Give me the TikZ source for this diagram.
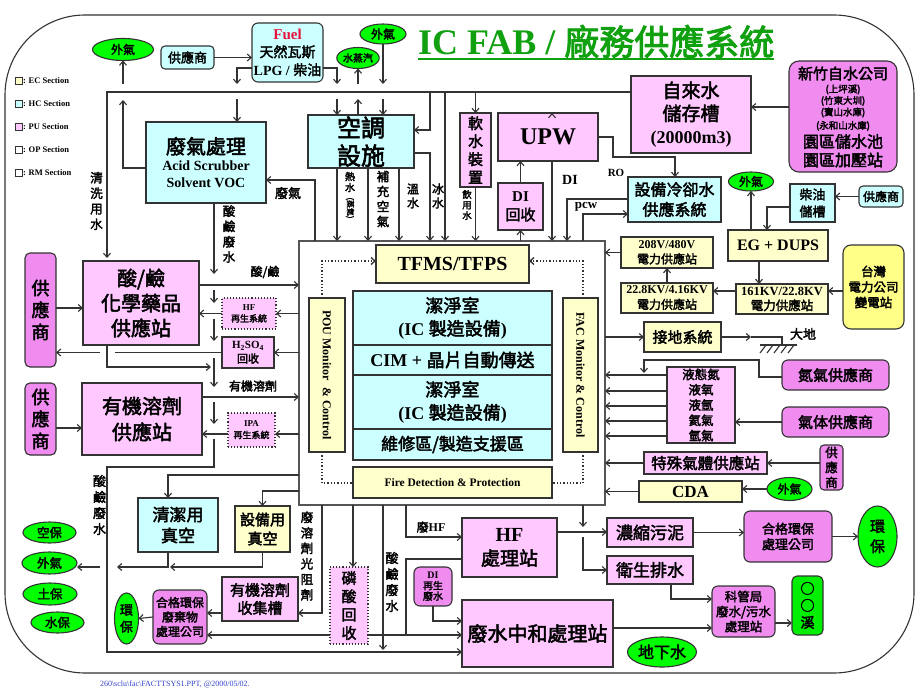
\documentclass[tikz,border=0pt]{standalone}
\usepackage{fontspec}
\setmainfont{Liberation Serif}
\newfontfamily\cjk[AutoFakeBold=2.5]{Noto Sans CJK TC}
\usetikzlibrary{arrows.meta,shapes.geometric}
\definecolor{pu}{HTML}{FFC8FF}
\definecolor{hc}{HTML}{CCFFFF}
\definecolor{ec}{HTML}{FFFFCC}
\definecolor{vi}{HTML}{F08CF0}
\definecolor{gr}{HTML}{00FF00}
\definecolor{gb}{HTML}{00EE00}
\definecolor{ty}{HTML}{FFFF88}
\definecolor{bd}{HTML}{333333}
\definecolor{frc}{HTML}{555555}
\definecolor{tg}{HTML}{10A010}
\definecolor{fuelred}{HTML}{E8103C}
\definecolor{fb}{HTML}{3344CC}
\newcommand\zhf{\cjk\bfseries}
\newcommand\lat{\rmfamily\bfseries}
\newcommand\fsz[2]{\fontsize{#1}{#2}\selectfont}
\newcommand\bxx[7]{\node[#2,minimum width={(#5-#3)*1pt},minimum height={(#6-#4)*1pt}] (#1) at ({(#3+#5)/2},{(#4+#6)/2}) {#7};}
\newcommand\elp[7]{\node[ell,#2,minimum width=#5pt,minimum height=#6pt] (#1) at (#3,#4) {#7};}
\begin{document}
\begin{tikzpicture}[x=1pt,y=-1pt,
 every node/.style={inner sep=0pt,outer sep=0pt,align=center,font=\lat},
 box/.style={draw=bd,line width=1.1pt},
 pu/.style={box,fill=pu}, hc/.style={box,fill=hc}, ec/.style={box,fill=ec},
 vi/.style={box,fill=vi,rounded corners=6pt},
 ell/.style={ellipse,draw=bd,line width=1.1pt,fill=gr},
 ln/.style={draw=bd,line width=1.1pt},
 ar/.style={ln,-{Straight Barb[length=4pt,width=7pt]}},
 dt/.style={draw=bd,line width=1.3pt,dotted},
 dar/.style={dt,-{Straight Barb[length=4pt,width=7pt]}},
]
\fill[white] (0,0) rectangle (920,690);
\useasboundingbox (0,0) rectangle (920,690);
\draw[ln,rounded corners=80pt] (5,15) rectangle (914,673);

% legend
\foreach \yy/\cc/\lb in {80.5/ec/EC,103.5/hc/HC,126.5/pu/PU,149.5/white/OP,172.5/white/RM}{
  \node[draw=bd,line width=0.8pt,fill=\cc,minimum size=7pt] (lg\lb) at (18.5,\yy) {};
  \node[anchor=west,font=\lat\fsz{8.5}{10}] (lt\lb) at (23,\yy) {: \lb\ Section};
}

% title
\node[anchor=base west,text=tg,font=\lat\fsz{36}{40}] (title) at (418,55) {IC FAB / {\zhf\fsz{35}{40}廠務供應系統}};
\draw[draw=tg,line width=2.2pt] ([yshift=-4pt]title.base west) -- ([yshift=-4pt]title.base east);

% main frame
\bxx{fr}{draw=frc,line width=1.3pt,fill=white}{299}{241}{605}{505}{}

% ---------- top row ----------
\elp{wq1}{font=\zhf\fsz{12}{14}}{123}{49.5}{61}{22}{外氣}
\bxx{gys1}{hc,rounded corners=4pt,font=\zhf\fsz{13}{15}}{161}{46}{214}{69}{供應商}
\bxx{fuel}{hc,rounded corners=6pt,font=\zhf\fsz{14}{18}}{252}{23}{323}{82}{{\lat\color{fuelred}\fsz{15}{18}Fuel}\\天然瓦斯\\{\lat LPG / }柴油}
\elp{stm}{font=\zhf\fsz{10}{12}}{358}{58}{40}{21}{水蒸汽}
\elp{wq2}{font=\zhf\fsz{12}{14}}{383}{34}{46}{20}{外氣}
\bxx{wg}{hc,font=\lat\fsz{14}{17}}{146}{122}{266}{203}{{\zhf\fsz{20}{25}廢氣處理}\\Acid Scrubber\\Solvent VOC}
\bxx{kt}{hc,font=\zhf\fsz{24}{28}}{308}{115}{414}{168}{空調\\設施}
\bxx{rs}{pu,font=\zhf\fsz{15}{18}}{460}{113}{491}{187}{軟\\水\\裝\\置}
\bxx{upw}{pu,font=\lat\fsz{24}{28}}{498}{113}{598}{161}{UPW}
\bxx{dih}{pu,font=\zhf\fsz{15}{19}}{498}{183}{543}{230}{{\lat DI}\\回收}
\bxx{tap}{pu,font=\zhf\fsz{19}{23}}{631}{76}{751}{153}{自來水\\儲存槽\\{\lat\fsz{18}{23}(20000m3)}}
\bxx{hsc}{vi,rounded corners=10pt}{789}{61}{897}{172}{}
\node[font=\zhf\fsz{15}{17}] (hs1) at (843,73.5) {新竹自水公司};
\node[font=\zhf\fsz{9.5}{11}] (hs2) at (843,89.5) {(上坪溪)};
\node[font=\zhf\fsz{9.5}{11}] (hs3) at (843,101) {(竹東大圳)};
\node[font=\zhf\fsz{9.5}{11}] (hs4) at (843,112.5) {(寶山水庫)};
\node[font=\zhf\fsz{9.5}{11}] (hs5) at (843,126) {(永和山水庫)};
\node[font=\zhf\fsz{16}{18}] (hs6) at (843,141.5) {園區儲水池};
\node[font=\zhf\fsz{16}{18}] (hs7) at (843,160) {園區加壓站};
\bxx{cw}{hc,font=\zhf\fsz{16}{20}}{628}{177}{721}{222}{設備冷卻水\\供應系統}
\elp{wq3}{font=\zhf\fsz{12}{14}}{751}{181.5}{45}{19}{外氣}
\bxx{cy}{hc,font=\zhf\fsz{13}{17}}{790}{184}{835}{222}{柴油\\儲槽}
\bxx{gys3}{hc,rounded corners=4pt,font=\zhf\fsz{12}{14}}{859}{186}{903}{207}{供應商}

% bus
\draw[ar] (tap.west |- 0,92) -- (107,92) -- (107,258);
\draw[ar] (wg.west |- 0,168) -- (123,168) -- (123,100);
\draw[ar] (123,84) -- (wq1.south);
\draw[ar] (gys1.east) -- (fuel.west |- gys1.east);
\draw[ar] (fuel.west |- 0,68) -| (237,84);
\draw[ar] (237,99) -- (wg.north -| 237,0);
\draw[ar] (fuel.east |- 0,68) -| (337,84);
\draw[ar] (337,99) -- (kt.north -| 337,0);
\draw[ar] (kt.north -| 358,0) -- (358,99);
\draw[ar] (358,84) -- (stm.south);
\draw[ar] (wq2.south) -- (383,84);
\draw[ar] (383,99) -- (kt.north -| 383,0);
\draw[ar] (430,92) |- (kt.east |- 0,130);
\draw[ar] (445,92) -- (fr.north -| 445,0);
\draw[ar] (rs.north |- 0,92) -- (rs.north);
\draw[ar] (upw.north -| 552,0 |- 0,92) -- (upw.north -| 552,0);
\draw[ar] (hsc.west |- 0,107) -- (tap.east |- 0,107);

% air-con outputs
\draw[ar] (kt.south -| 337,0) -- (fr.north -| 337,0);
\draw[ar] (kt.south -| 368,0) -- (fr.north -| 368,0);
\draw[ar] (kt.south -| 399,0) -- (fr.north -| 399,0);
\draw[ar] (kt.east |- 0,153) -| (fr.north -| 430,0);
\node[font=\zhf\fsz{10}{11}] (lrs) at (350,182) {熱\\水};
\node[rotate=-90,font=\zhf\fsz{8}{9}] (lrs2) at (350,208) {(蒸氣)};
\node[font=\zhf\fsz{12.5}{15}] (lbc) at (383,199) {補\\充\\空\\氣};
\node[font=\zhf\fsz{12}{14}] (lws) at (413,196) {溫\\水};
\node[font=\zhf\fsz{12}{14}] (lbs) at (438,196) {冰\\水};
\node[font=\zhf\fsz{9.5}{10.5}] (lys) at (467,205) {飲\\用\\水};
\draw[ar] (rs.south) -- (fr.north -| rs.south);

% UPW
\draw[ar] (upw.south -| 552,0) -- (fr.north -| 552,0);
\draw[ar] (fr.north -| dih.south) -- (dih.south);
\draw[ar] (dih.north) -- (upw.south -| dih.north);
\draw[ar] (upw.east |- 0,137) -- (613,137) -- (613,157) -- (675,157) -- (cw.north -| 675,0);
\node[font=\lat\fsz{11}{13}] (lro) at (616,173) {RO};
\node[font=\lat\fsz{14}{16}] (ldi) at (570,180) {DI};
\node[font=\lat\fsz{13}{15}] (lpcw) at (586,207) {pcw};
\draw[ar] (cw.west |- 0,199) -| (fr.north -| 567,0);
\draw[ar] (fr.north -| 583,0) |- (cw.west |- 0,214);

% power & right column
\bxx{eg}{ec,font=\lat\fsz{16}{18}}{728}{230}{828}{261}{EG + DUPS}
\bxx{kv161}{ec,font=\lat\fsz{12.5}{15}}{736}{284}{828}{314}{161KV/22.8KV\\{\zhf 電力供應站}}
\bxx{tw}{box,fill=ty,rounded corners=8pt,font=\zhf\fsz{12.5}{15.5}}{843}{245}{904}{329}{台灣\\電力公司\\變電站}
\bxx{kv22}{ec,font=\lat\fsz{12}{15}}{621}{283}{713}{313}{22.8KV/4.16KV\\{\zhf 電力供應站}}
\bxx{v208}{ec,font=\lat\fsz{12}{15}}{621}{237}{713}{268}{208V/480V\\{\zhf 電力供應站}}
\bxx{gd}{ec,font=\zhf\fsz{15}{17}}{644}{322}{721}{352}{接地系統}
\bxx{n2s}{vi,font=\zhf\fsz{15}{17}}{782}{360}{889}{390}{氮氣供應商}
\bxx{gas}{pu,font=\zhf\fsz{12.5}{15.3}}{667}{367}{735}{443}{液態氮\\液氧\\液氬\\氦氣\\氫氣}
\bxx{gss}{vi,font=\zhf\fsz{15}{17}}{782}{407}{889}{437}{氣体供應商}
\bxx{sgs}{pu,font=\zhf\fsz{15.5}{17}}{644}{452}{767}{474}{特殊氣體供應站}
\bxx{gys4}{vi,rounded corners=4pt,font=\zhf\fsz{12.5}{15}}{820}{445}{843}{490}{供\\應\\商}
\bxx{cda}{ec,font=\lat\fsz{17}{19}}{639}{481}{742}{502}{CDA}
\elp{wq4}{font=\zhf\fsz{12}{14}}{789.5}{489}{45}{23}{外氣}

\draw[ar] (gys3.west) -- (cy.east |- gys3.west);
\draw[ar] (cy.west |- 0,207) -| (eg.north -| 767,0);
\draw[ar] (eg.north -| 751,0) -- (wq3.south);
\draw[ar] (eg.south -| 759,0) -- (kv161.north -| 759,0);
\draw[ar] (tw.west |- 0,291) -- (kv161.east |- 0,291);
\draw[ar] (kv161.west |- 0,291) -- (kv22.east |- 0,291);
\draw[ar] (kv22.north) -- (v208.south);
\draw[ar] (v208.west) -- (fr.east |- v208.west);
\draw[ar] (fr.east |- gd.west) -- (gd.west);
\draw[ar] (gd.east) -- (751,337);
\draw[ln] (751,337) -| (782,345);
\coordinate (gl) at (760,345);
\coordinate (gr) at (797,345);
\draw[ln] (gl) -- (gr);
\foreach \gx in {766,773,780,787,794} \draw[ln] (\gx,345) -- ++(-6,8);
\node[font=\zhf\fsz{13}{15}] (ldd) at (803,334) {大地};
\draw[ar] (n2s.west |- 0,377) -| (759,360) -| (644,373);
\foreach \gy in {375,391,406,421,436} \draw[ar] (gas.west |- 0,\gy) -- (fr.east |- 0,\gy);
\draw[ar] (gss.west) -- (gas.east |- gss.west);
\draw[ar] (sgs.west) -- (fr.east |- sgs.west);
\draw[ar] (gys4.west |- sgs.east) -- (sgs.east);
\draw[ar] (cda.west) -- (fr.east |- cda.west);
\draw[ar] (wq4.west) -- (cda.east |- wq4.west);

% ---------- inside frame ----------
\bxx{tf}{ec,font=\lat\fsz{20}{24}}{376}{245}{529}{283}{TFMS/TFPS}
\bxx{pou}{ec}{309}{298}{345}{452}{}
\node[rotate=-90,font=\lat\fsz{12}{14}] (tpou) at (pou) {POU Monitor \ \& Control};
\bxx{fac}{ec}{563}{298}{598}{452}{}
\node[rotate=-90,font=\lat\fsz{12}{14}] (tfac) at (fac) {FAC Monitor \& Control};
\bxx{cr1}{hc,font=\zhf\fsz{18}{23}}{353}{291}{552}{345}{潔淨室\\{\lat(IC }製造設備{\lat)}}
\bxx{cr2}{hc,font=\zhf\fsz{18}{22}}{353}{345}{552}{375}{{\lat CIM + }晶片自動傳送}
\bxx{cr3}{hc,font=\zhf\fsz{18}{23}}{353}{375}{552}{429}{潔淨室\\{\lat(IC }製造設備{\lat)}}
\bxx{cr4}{hc,font=\zhf\fsz{17}{20}}{353}{429}{552}{460}{維修區/製造支援區}
\bxx{fd}{ec,font=\lat\fsz{11.5}{13}}{353}{467}{552}{498}{Fire Detection \& Protection}
\draw[dar] (pou.north -| 322,0) |- (tf.west |- 0,261);
\draw[dt] (pou.south -| 322,0) |- (fd.west |- 0,483);
\draw[dar] (fac.north -| 583,0) |- (tf.east |- 0,261);
\draw[dt] (fac.south -| 583,0) |- (fd.east |- 0,483);

% ---------- left side ----------
\bxx{sup1}{vi,rounded corners=5pt,font=\zhf\fsz{18}{22}}{25}{253}{56}{367}{供\\應\\商}
\bxx{sj}{pu,font=\zhf\fsz{20}{25}}{83}{261}{199}{345}{酸/鹼\\化學藥品\\供應站}
\bxx{sup2}{vi,rounded corners=5pt,font=\zhf\fsz{18}{22}}{25}{383}{56}{455}{供\\應\\商}
\bxx{yj}{pu,font=\zhf\fsz{20}{26}}{82}{383}{202}{455}{有機溶劑\\供應站}
\bxx{hfr}{pu,dotted,font=\zhf\fsz{9}{11.5}}{222}{298}{276}{329}{{\lat HF}\\再生系統}
\bxx{h2}{pu,font=\zhf\fsz{11}{14}}{222}{337}{274}{368}{{\lat H\textsubscript{2}SO\textsubscript{4}}\\回收}
\bxx{ipa}{pu,dotted,font=\zhf\fsz{9}{11.5}}{228}{413}{275}{447}{{\lat IPA}\\再生系統}

\node[font=\zhf\fsz{12.5}{15.5}] (lqx) at (96.5,201) {清\\洗\\用\\水};
\node[font=\zhf\fsz{12.5}{15.3}] (lsw1) at (229,234) {酸\\鹼\\廢\\水};
\node[font=\zhf\fsz{13}{15}] (lfq) at (288,193) {廢氣};
\draw[ar] (fr.north -| 315,0) |- (wg.east |- 0,180);
\draw[ar] (sup1.east |- 0,308) -- (sj.west |- 0,308);
\draw[ar] (sj.east |- 0,285) -- (fr.west |- 0,285);
\node[font=\zhf\fsz{12}{14}] (lsj) at (265,272) {酸/鹼};
\draw[ar] (fr.west |- hfr.east) -- (hfr.east);
\draw[ar] (hfr.west) -- (sj.east |- hfr.west);
\draw[ar] (fr.west |- h2.east) -- (h2.east);
\draw[ln] (h2.west) -- (115,352.5);
\draw[ar] (100,352.5) -- (sup1.east |- 0,352.5);
\draw[ar] (sj.south -| 107,0) |- (211,367);
\draw[ar] (wg.south -| 214,0) -- (214,274);
\draw[ar] (214,290) -- (214,303);
\draw[ar] (214,319) -- (214,341);
\draw[ar] (214,358) -- (214,387);
\draw[ar] (214,402) -- (214,424);
\draw[ar] (sup2.east |- 0,428) -- (yj.west |- 0,428);
\draw[ar] (yj.east |- 0,397) -- (fr.west |- 0,397);
\node[font=\zhf\fsz{12}{14}] (lyj) at (253,386) {有機溶劑};
\draw[ar] (fr.west |- 0,434) -- (ipa.east |- 0,434);
\draw[ar] (ipa.west |- 0,434) -- (yj.east |- 0,434);

% ---------- bottom ----------
\bxx{cv}{hc,font=\zhf\fsz{17}{21}}{138}{498}{218}{552}{清潔用\\真空}
\bxx{ev}{ec,font=\zhf\fsz{15}{19}}{235}{506}{290}{552}{設備用\\真空}
\bxx{yc}{pu,font=\zhf\fsz{15}{18}}{222}{577}{298}{621}{有機溶劑\\收集槽}
\bxx{hz}{vi,font=\zhf\fsz{12}{14.5}}{153}{590}{207}{644}{合格環保\\廢棄物\\處理公司}
\elp{hb2}{font=\zhf\fsz{13}{17}}{126.5}{618.5}{24}{51}{環\\保}
\bxx{pl}{pu,dotted,font=\zhf\fsz{15}{18.3}}{330}{567}{368}{644}{磷\\酸\\回\\收}
\bxx{dir}{vi,font=\zhf\fsz{10}{10.5}}{414}{567}{452}{606}{{\lat DI}\\再生\\廢水}
\bxx{hf}{pu,font=\zhf\fsz{19}{24}}{462}{518}{557}{577}{{\lat\fsz{20}{24}HF}\\處理站}
\bxx{wz}{pu,font=\zhf\fsz{20}{24}}{462}{600}{613}{667}{廢水中和處理站}
\bxx{ns}{pu,font=\zhf\fsz{17}{20}}{607}{518}{693}{547}{濃縮污泥}
\bxx{ws}{pu,font=\zhf\fsz{17}{20}}{607}{556}{693}{584}{衛生排水}
\bxx{hg}{vi,font=\zhf\fsz{13}{15.5}}{744}{511}{832}{562}{合格環保\\處理公司}
\elp{hb1}{font=\zhf\fsz{15}{20}}{877.5}{536.5}{39}{61}{環\\保}
\bxx{kg}{vi,font=\zhf\fsz{12.5}{15}}{712}{586}{775}{637}{科管局\\廢水/污水\\處理站}
\bxx{xi}{box,fill=gb,rounded corners=5pt,font=\zhf\fsz{14}{17}}{792}{576}{823}{635}{○\\○\\溪}
\elp{dx}{font=\zhf\fsz{16}{18}}{662}{652}{69}{30}{地下水}
\elp{kb}{font=\zhf\fsz{12.5}{14}}{49.5}{532.5}{53}{21}{空保}
\elp{wq5}{font=\zhf\fsz{12.5}{14}}{49.5}{563}{55}{22}{外氣}
\elp{tb}{font=\zhf\fsz{12.5}{14}}{50}{594}{54}{22}{土保}
\elp{sb}{font=\zhf\fsz{12.5}{14}}{57.5}{622.5}{53}{21}{水保}

\draw[ar] (214,439) -- (214,467) -- (107,467) -- (107,652) -- (wz.west |- 0,652);
\node[font=\zhf\fsz{13}{16}] (lsw2) at (99.5,505) {酸\\鹼\\廢\\水};
\draw[ar] (fr.west |- 0,475) -| (cv.north -| 168,0);
\draw[ar] (fr.west |- 0,491) -| (ev.north);
\draw[ar] (ev.south) |- (170,567);
\draw[ar] (cv.south -| 168,0) |- (117,567);
\draw[ar] (100,567) -- (wq5.east |- 0,567);
\draw[ar] (fr.south -| 322,0) |- (yc.east |- 0,613);
\node[font=\zhf\fsz{12.5}{15.5}] (lrj) at (307,556) {廢\\溶\\劑\\光\\阻\\劑};
\draw[ar] (yc.west |- 0,613) -- (hz.east |- 0,613);
\draw[ar] (pl.west |- 0,635) -- (hz.east |- 0,635);
\draw[ar] (hz.west) -- (hb2.east);
\draw[ar] (fr.south -| 353,0) -- (pl.north -| 353,0);
\draw[ar] (fr.south -| 383,0) -- (383,650);
\node[font=\zhf\fsz{13}{16}] (lsw3) at (392,582) {酸\\鹼\\廢\\水};
\draw[ar] (fr.south -| 406,0) |- (hf.west |- 0,537);
\node[font=\zhf\fsz{12}{14}] (lhf) at (431,527) {廢{\lat HF}};
\draw[ln] (pl.east |- 0,635) -- (406,635);
\draw[ar] (hf.west |- 0,559) -| (406,635) -- (wz.west |- 0,635);
\draw[ar] (dir.south) |- (wz.west |- 0,621);
\draw[ar] (fr.south -| 583,0) -- (583,527);
\draw[ar] (583,537) |- (ws.west);
\draw[ar] (hf.east |- 0,532) -- (ns.west |- 0,532);
\draw[ar] (ns.east) -- (hg.west |- ns.east);
\draw[ar] (hg.east) -- (hb1.west);
\draw[ar] (ws.south -| 671,0) |- (kg.west |- 0,599);
\draw[ar] (wz.east |- 0,628) -- (kg.west |- 0,628);
\draw[ar] (kg.east |- 0,623) -- (xi.west |- 0,623);

\node[anchor=west,text=fb,font=\rmfamily\mdseries\fsz{8}{9}] (foot) at (100,684) {260\textbackslash sclu\textbackslash fac\textbackslash FACTTSYS1.PPT, @2000/05/02.};
\end{tikzpicture}
\end{document}
